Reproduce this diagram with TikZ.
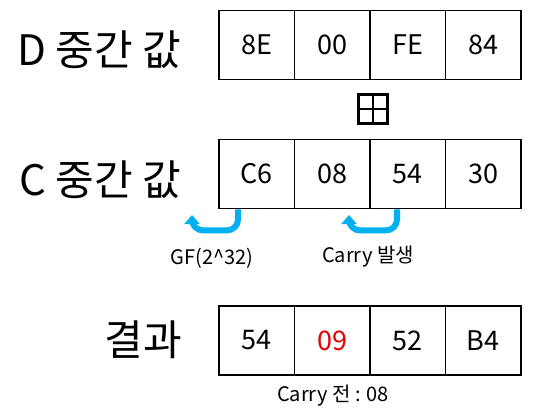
\documentclass[tikz,border=0pt]{standalone}
\usepackage{fontspec}
\setmainfont{Noto Sans CJK KR}
\usetikzlibrary{arrows.meta}
\definecolor{arrowblue}{RGB}{0,176,240}
\definecolor{redtxt}{RGB}{230,0,0}
\tikzset{
  cell/.style={draw=black, line width=1.8pt, minimum width=75.5pt, minimum height=69pt, inner sep=0pt, font=\fontsize{27}{31}\selectfont},
  rowlabel/.style={font=\fontsize{42}{48}\selectfont, inner sep=0pt},
  note/.style={font=\fontsize{20}{24}\selectfont, inner sep=0pt},
  bluearrow/.style={draw=arrowblue, line width=6pt, rounded corners=11pt, -{Triangle[width=15pt,length=9pt]}}
}
\begin{document}
\begin{tikzpicture}[x=1pt,y=-1pt]
\useasboundingbox (0,0) rectangle (538,417);
% D row
\node[rowlabel] (dl) at (99,50) {D 중간 값};
\node[cell] (d1) at (256.75,45) {8E};
\node[cell] (d2) at (332.25,45) {00};
\node[cell] (d3) at (407.75,45) {FE};
\node[cell] (d4) at (483.25,45) {84};
% box plus
\node[draw=black, line width=2.2pt, minimum width=29pt, minimum height=29pt, inner sep=0pt] (op) at (373,109) {};
\draw[line width=2.2pt] (op.north) -- (op.south);
\draw[line width=2.2pt] (op.west) -- (op.east);
% C row
\node[rowlabel] (cl) at (100,180) {C 중간 값};
\node[cell] (c1) at (256.75,174) {C6};
\node[cell] (c2) at (332.25,174) {08};
\node[cell] (c3) at (407.75,174) {54};
\node[cell] (c4) at (483.25,174) {30};
% arrows
\coordinate (a1e) at (192,215);
\coordinate (a2e) at (349,215);
\draw[bluearrow] ([xshift=-18.75pt]c1.south) -- ++(0,21) -| (a1e);
\draw[bluearrow] ([xshift=-10.75pt]c3.south) -- ++(0,21) -| (a2e);
\node[note] (gf) at (212,258) {GF(2\^{}32)};
\node[note] (cr) at (368,257) {Carry 발생};
% result row
\node[rowlabel] (rl) at (143,340) {결과};
\node[cell] (r1) at (256.75,340.5) {54};
\node[cell, text=redtxt] (r2) at (332.25,340.5) {09};
\node[cell] (r3) at (407.75,340.5) {52};
\node[cell] (r4) at (483.25,340.5) {B4};
\node[note] (cb) at (333,396) {Carry 전 : 08};
\end{tikzpicture}
\end{document}
